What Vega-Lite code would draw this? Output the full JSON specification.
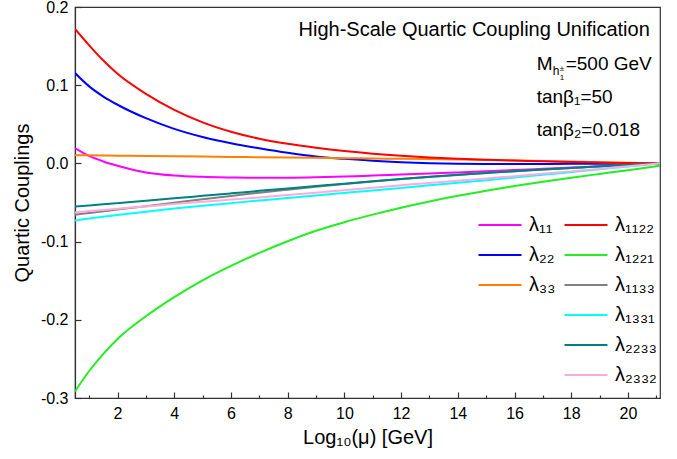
{
  "$schema": "https://vega.github.io/schema/vega-lite/v6.json",
  "width": 585,
  "height": 391,
  "autosize": {"type": "none"},
  "padding": {"left": 75, "top": 7, "right": 17, "bottom": 61},
  "background": "white",
  "config": {
    "font": "Liberation Sans",
    "view": {"stroke": "#333333", "strokeWidth": 1.2},
    "axis": {"grid": false, "domainColor": "#333333", "tickColor": "#333333", "domainWidth": 1.2, "tickWidth": 1.2, "labelColor": "#000000", "titleColor": "#000000", "labelFont": "Liberation Sans", "titleFont": "Liberation Sans", "labelFontSize": 16, "titleFontSize": 20, "titleFontWeight": "normal", "labelOverlap": false},
    "legend": {"labelFont": "Liberation Sans", "labelColor": "#000000", "labelFontSize": 20, "symbolStrokeWidth": 2.2, "symbolSize": 205, "symbolType": "M-3,0H3", "labelOffset": 19, "rowPadding": 10, "padding": 0}
  },
  "data": {"values": [
    {"s":"λ₁₁","x":0.5,"y":0.0197},{"s":"λ₁₁","x":1,"y":0.0095},{"s":"λ₁₁","x":1.5,"y":0.0025},{"s":"λ₁₁","x":2,"y":-0.003},{"s":"λ₁₁","x":3,"y":-0.0115},{"s":"λ₁₁","x":4,"y":-0.0155},{"s":"λ₁₁","x":5,"y":-0.0172},{"s":"λ₁₁","x":6,"y":-0.018},{"s":"λ₁₁","x":7,"y":-0.0185},{"s":"λ₁₁","x":8,"y":-0.0184},{"s":"λ₁₁","x":9,"y":-0.0178},{"s":"λ₁₁","x":10,"y":-0.0168},{"s":"λ₁₁","x":11,"y":-0.0156},{"s":"λ₁₁","x":12,"y":-0.0143},{"s":"λ₁₁","x":13,"y":-0.013},{"s":"λ₁₁","x":14,"y":-0.0115},{"s":"λ₁₁","x":15,"y":-0.01},{"s":"λ₁₁","x":16,"y":-0.0085},{"s":"λ₁₁","x":17,"y":-0.0069},{"s":"λ₁₁","x":18,"y":-0.0054},{"s":"λ₁₁","x":19,"y":-0.0038},{"s":"λ₁₁","x":20,"y":-0.002},{"s":"λ₁₁","x":21.13,"y":0},
    {"s":"λ₂₂","x":0.5,"y":0.1156},{"s":"λ₂₂","x":1,"y":0.0985},{"s":"λ₂₂","x":1.5,"y":0.0855},{"s":"λ₂₂","x":2,"y":0.075},{"s":"λ₂₂","x":3,"y":0.0578},{"s":"λ₂₂","x":4,"y":0.0442},{"s":"λ₂₂","x":5,"y":0.0338},{"s":"λ₂₂","x":6,"y":0.0258},{"s":"λ₂₂","x":7,"y":0.0193},{"s":"λ₂₂","x":8,"y":0.0135},{"s":"λ₂₂","x":9,"y":0.0088},{"s":"λ₂₂","x":10,"y":0.0058},{"s":"λ₂₂","x":11,"y":0.0033},{"s":"λ₂₂","x":12,"y":0.0015},{"s":"λ₂₂","x":13,"y":0.0003},{"s":"λ₂₂","x":14,"y":-0.0004},{"s":"λ₂₂","x":15,"y":-0.0007},{"s":"λ₂₂","x":16,"y":-0.0008},{"s":"λ₂₂","x":17,"y":-0.0007},{"s":"λ₂₂","x":18,"y":-0.0006},{"s":"λ₂₂","x":19,"y":-0.0004},{"s":"λ₂₂","x":20,"y":-0.0002},{"s":"λ₂₂","x":21.13,"y":0},
    {"s":"λ₃₃","x":0.5,"y":0.0105},{"s":"λ₃₃","x":1,"y":0.0103},{"s":"λ₃₃","x":1.5,"y":0.0101},{"s":"λ₃₃","x":2,"y":0.0099},{"s":"λ₃₃","x":3,"y":0.0095},{"s":"λ₃₃","x":4,"y":0.0091},{"s":"λ₃₃","x":5,"y":0.0087},{"s":"λ₃₃","x":6,"y":0.0083},{"s":"λ₃₃","x":7,"y":0.0079},{"s":"λ₃₃","x":8,"y":0.0075},{"s":"λ₃₃","x":9,"y":0.0071},{"s":"λ₃₃","x":10,"y":0.0067},{"s":"λ₃₃","x":11,"y":0.0063},{"s":"λ₃₃","x":12,"y":0.0059},{"s":"λ₃₃","x":13,"y":0.0055},{"s":"λ₃₃","x":14,"y":0.005},{"s":"λ₃₃","x":15,"y":0.0044},{"s":"λ₃₃","x":16,"y":0.0038},{"s":"λ₃₃","x":17,"y":0.0031},{"s":"λ₃₃","x":18,"y":0.0024},{"s":"λ₃₃","x":19,"y":0.0016},{"s":"λ₃₃","x":20,"y":0.0008},{"s":"λ₃₃","x":21.13,"y":0},
    {"s":"λ₁₁₂₂","x":0.5,"y":0.172},{"s":"λ₁₁₂₂","x":1,"y":0.151},{"s":"λ₁₁₂₂","x":1.5,"y":0.1315},{"s":"λ₁₁₂₂","x":2,"y":0.1145},{"s":"λ₁₁₂₂","x":3,"y":0.089},{"s":"λ₁₁₂₂","x":4,"y":0.0685},{"s":"λ₁₁₂₂","x":5,"y":0.0525},{"s":"λ₁₁₂₂","x":6,"y":0.0405},{"s":"λ₁₁₂₂","x":7,"y":0.0315},{"s":"λ₁₁₂₂","x":8,"y":0.025},{"s":"λ₁₁₂₂","x":9,"y":0.02},{"s":"λ₁₁₂₂","x":10,"y":0.0158},{"s":"λ₁₁₂₂","x":11,"y":0.0124},{"s":"λ₁₁₂₂","x":12,"y":0.0097},{"s":"λ₁₁₂₂","x":13,"y":0.0076},{"s":"λ₁₁₂₂","x":14,"y":0.006},{"s":"λ₁₁₂₂","x":15,"y":0.0047},{"s":"λ₁₁₂₂","x":16,"y":0.0036},{"s":"λ₁₁₂₂","x":17,"y":0.0027},{"s":"λ₁₁₂₂","x":18,"y":0.0019},{"s":"λ₁₁₂₂","x":19,"y":0.0012},{"s":"λ₁₁₂₂","x":20,"y":0.0006},{"s":"λ₁₁₂₂","x":21.13,"y":0},
    {"s":"λ₁₂₂₁","x":0.5,"y":-0.2916},{"s":"λ₁₂₂₁","x":1,"y":-0.2655},{"s":"λ₁₂₂₁","x":1.5,"y":-0.2435},{"s":"λ₁₂₂₁","x":2,"y":-0.2245},{"s":"λ₁₂₂₁","x":3,"y":-0.1955},{"s":"λ₁₂₂₁","x":4,"y":-0.171},{"s":"λ₁₂₂₁","x":5,"y":-0.1495},{"s":"λ₁₂₂₁","x":6,"y":-0.131},{"s":"λ₁₂₂₁","x":7,"y":-0.1145},{"s":"λ₁₂₂₁","x":8,"y":-0.0995},{"s":"λ₁₂₂₁","x":9,"y":-0.0862},{"s":"λ₁₂₂₁","x":10,"y":-0.0752},{"s":"λ₁₂₂₁","x":11,"y":-0.0655},{"s":"λ₁₂₂₁","x":12,"y":-0.0567},{"s":"λ₁₂₂₁","x":13,"y":-0.0487},{"s":"λ₁₂₂₁","x":14,"y":-0.0415},{"s":"λ₁₂₂₁","x":15,"y":-0.035},{"s":"λ₁₂₂₁","x":16,"y":-0.029},{"s":"λ₁₂₂₁","x":17,"y":-0.0235},{"s":"λ₁₂₂₁","x":18,"y":-0.0183},{"s":"λ₁₂₂₁","x":19,"y":-0.0135},{"s":"λ₁₂₂₁","x":20,"y":-0.0087},{"s":"λ₁₂₂₁","x":21.13,"y":-0.003},
    {"s":"λ₁₁₃₃","x":0.5,"y":-0.0656},{"s":"λ₁₁₃₃","x":1,"y":-0.0634},{"s":"λ₁₁₃₃","x":1.5,"y":-0.0612},{"s":"λ₁₁₃₃","x":2,"y":-0.059},{"s":"λ₁₁₃₃","x":3,"y":-0.0547},{"s":"λ₁₁₃₃","x":4,"y":-0.0503},{"s":"λ₁₁₃₃","x":5,"y":-0.0459},{"s":"λ₁₁₃₃","x":6,"y":-0.0416},{"s":"λ₁₁₃₃","x":7,"y":-0.0375},{"s":"λ₁₁₃₃","x":8,"y":-0.0336},{"s":"λ₁₁₃₃","x":9,"y":-0.0298},{"s":"λ₁₁₃₃","x":10,"y":-0.0263},{"s":"λ₁₁₃₃","x":11,"y":-0.0231},{"s":"λ₁₁₃₃","x":12,"y":-0.0201},{"s":"λ₁₁₃₃","x":13,"y":-0.0173},{"s":"λ₁₁₃₃","x":14,"y":-0.0147},{"s":"λ₁₁₃₃","x":15,"y":-0.0123},{"s":"λ₁₁₃₃","x":16,"y":-0.01},{"s":"λ₁₁₃₃","x":17,"y":-0.0079},{"s":"λ₁₁₃₃","x":18,"y":-0.0059},{"s":"λ₁₁₃₃","x":19,"y":-0.0039},{"s":"λ₁₁₃₃","x":20,"y":-0.002},{"s":"λ₁₁₃₃","x":21.13,"y":0},
    {"s":"λ₁₃₃₁","x":0.5,"y":-0.0729},{"s":"λ₁₃₃₁","x":1,"y":-0.0705},{"s":"λ₁₃₃₁","x":1.5,"y":-0.0682},{"s":"λ₁₃₃₁","x":2,"y":-0.066},{"s":"λ₁₃₃₁","x":3,"y":-0.0617},{"s":"λ₁₃₃₁","x":4,"y":-0.0578},{"s":"λ₁₃₃₁","x":5,"y":-0.0542},{"s":"λ₁₃₃₁","x":6,"y":-0.0508},{"s":"λ₁₃₃₁","x":7,"y":-0.0475},{"s":"λ₁₃₃₁","x":8,"y":-0.0443},{"s":"λ₁₃₃₁","x":9,"y":-0.041},{"s":"λ₁₃₃₁","x":10,"y":-0.0378},{"s":"λ₁₃₃₁","x":11,"y":-0.0346},{"s":"λ₁₃₃₁","x":12,"y":-0.0313},{"s":"λ₁₃₃₁","x":13,"y":-0.028},{"s":"λ₁₃₃₁","x":14,"y":-0.0247},{"s":"λ₁₃₃₁","x":15,"y":-0.0214},{"s":"λ₁₃₃₁","x":16,"y":-0.018},{"s":"λ₁₃₃₁","x":17,"y":-0.0146},{"s":"λ₁₃₃₁","x":18,"y":-0.0111},{"s":"λ₁₃₃₁","x":19,"y":-0.0076},{"s":"λ₁₃₃₁","x":20,"y":-0.004},{"s":"λ₁₃₃₁","x":21.13,"y":0},
    {"s":"λ₂₂₃₃","x":0.5,"y":-0.055},{"s":"λ₂₂₃₃","x":1,"y":-0.0537},{"s":"λ₂₂₃₃","x":1.5,"y":-0.0523},{"s":"λ₂₂₃₃","x":2,"y":-0.0508},{"s":"λ₂₂₃₃","x":3,"y":-0.0478},{"s":"λ₂₂₃₃","x":4,"y":-0.0447},{"s":"λ₂₂₃₃","x":5,"y":-0.0415},{"s":"λ₂₂₃₃","x":6,"y":-0.0383},{"s":"λ₂₂₃₃","x":7,"y":-0.0351},{"s":"λ₂₂₃₃","x":8,"y":-0.032},{"s":"λ₂₂₃₃","x":9,"y":-0.029},{"s":"λ₂₂₃₃","x":10,"y":-0.0259},{"s":"λ₂₂₃₃","x":11,"y":-0.0229},{"s":"λ₂₂₃₃","x":12,"y":-0.02},{"s":"λ₂₂₃₃","x":13,"y":-0.0172},{"s":"λ₂₂₃₃","x":14,"y":-0.0146},{"s":"λ₂₂₃₃","x":15,"y":-0.0122},{"s":"λ₂₂₃₃","x":16,"y":-0.0099},{"s":"λ₂₂₃₃","x":17,"y":-0.0078},{"s":"λ₂₂₃₃","x":18,"y":-0.0058},{"s":"λ₂₂₃₃","x":19,"y":-0.0038},{"s":"λ₂₂₃₃","x":20,"y":-0.0019},{"s":"λ₂₂₃₃","x":21.13,"y":0},
    {"s":"λ₂₃₃₂","x":0.5,"y":-0.0627},{"s":"λ₂₃₃₂","x":1,"y":-0.061},{"s":"λ₂₃₃₂","x":1.5,"y":-0.0595},{"s":"λ₂₃₃₂","x":2,"y":-0.058},{"s":"λ₂₃₃₂","x":3,"y":-0.055},{"s":"λ₂₃₃₂","x":4,"y":-0.052},{"s":"λ₂₃₃₂","x":5,"y":-0.049},{"s":"λ₂₃₃₂","x":6,"y":-0.0463},{"s":"λ₂₃₃₂","x":7,"y":-0.0435},{"s":"λ₂₃₃₂","x":8,"y":-0.0405},{"s":"λ₂₃₃₂","x":9,"y":-0.0375},{"s":"λ₂₃₃₂","x":10,"y":-0.0342},{"s":"λ₂₃₃₂","x":11,"y":-0.031},{"s":"λ₂₃₃₂","x":12,"y":-0.028},{"s":"λ₂₃₃₂","x":13,"y":-0.025},{"s":"λ₂₃₃₂","x":14,"y":-0.0222},{"s":"λ₂₃₃₂","x":15,"y":-0.0193},{"s":"λ₂₃₃₂","x":16,"y":-0.0163},{"s":"λ₂₃₃₂","x":17,"y":-0.0133},{"s":"λ₂₃₃₂","x":18,"y":-0.0102},{"s":"λ₂₃₃₂","x":19,"y":-0.007},{"s":"λ₂₃₃₂","x":20,"y":-0.0036},{"s":"λ₂₃₃₂","x":21.13,"y":0}
  ]},
  "resolve": {"axis": {"x": "independent"}},
  "layer": [
    {
      "transform": [{"filter": {"field": "s", "oneOf": ["λ₁₁", "λ₂₂", "λ₃₃"]}}],
      "mark": {"type": "line", "strokeWidth": 2, "interpolate": "monotone", "clip": true},
      "encoding": {
        "x": {"field": "x", "type": "quantitative", "scale": {"domain": [0.5, 21.13], "nice": false, "zero": false},
          "axis": {"orient": "bottom", "title": "Log₁₀(μ) [GeV]", "values": [2,4,6,8,10,12,14,16,18,20],
            "tickSize": -6, "labelPadding": 13, "titlePadding": 6, "labelFlush": false, "labelOverlap": false}},
        "y": {"field": "y", "type": "quantitative", "scale": {"domain": [-0.3, 0.2], "nice": false, "zero": false},
          "axis": {"title": "Quartic Couplings", "values": [-0.3,-0.25,-0.2,-0.15,-0.1,-0.05,0,0.05,0.1,0.15,0.2],
            "labelExpr": "abs(datum.value*10 - round(datum.value*10)) < 0.01 ? replace(format(datum.value, '.1f'), '\u2212', '-') : ''",
            "labelOverlap": false,
            "tickSize": {"condition": {"test": "abs(datum.value*10 - round(datum.value*10)) < 0.01", "value": -6}, "value": -3},
            "labelPadding": 13, "titlePadding": 8, "labelFlush": false}},
        "color": {"field": "s", "type": "nominal",
          "scale": {"domain": ["λ₁₁", "λ₂₂", "λ₃₃"], "range": ["#ff00ff", "#0000ff", "#ff8000"]},
          "legend": {"title": null, "orient": "none", "legendX": 415, "legendY": 208}}
      }
    },
    {
      "transform": [{"filter": {"not": {"field": "s", "oneOf": ["λ₁₁", "λ₂₂", "λ₃₃"]}}}],
      "mark": {"type": "line", "strokeWidth": 2, "interpolate": "monotone", "clip": true},
      "encoding": {
        "x": {"field": "x", "type": "quantitative",
          "axis": {"orient": "bottom", "title": null, "values": [1,3,5,7,9,11,13,15,17,19,21], "labels": false, "domain": false, "tickSize": -3}},
        "y": {"field": "y", "type": "quantitative"},
        "stroke": {"field": "s", "type": "nominal",
          "scale": {"domain": ["λ₁₁₂₂", "λ₁₂₂₁", "λ₁₁₃₃", "λ₁₃₃₁", "λ₂₂₃₃", "λ₂₃₃₂"], "range": ["#ff0000", "#22ee22", "#808080", "#00ffff", "#008080", "#ffaadd"]},
          "legend": {"title": null, "orient": "none", "legendX": 501, "legendY": 208}}
      }
    },
    {
      "data": {"values": [{}]},
      "mark": {"type": "text", "text": "High-Scale Quartic Coupling Unification", "align": "right", "baseline": "alphabetic", "fontSize": 20, "font": "Liberation Sans", "color": "#000000"},
      "encoding": {"x": {"datum": 20.77, "axis": null}, "y": {"datum": 0.1624}}
    },
    {
      "data": {"values": [{}]},
      "mark": {"type": "text", "text": "M", "align": "left", "baseline": "alphabetic", "fontSize": 19, "font": "Liberation Sans", "color": "#000000"},
      "encoding": {"x": {"datum": 16.78, "axis": null}, "y": {"datum": 0.1198}}
    },
    {
      "data": {"values": [{}]},
      "mark": {"type": "text", "text": "h", "align": "left", "baseline": "alphabetic", "fontSize": 12, "dx": 16, "dy": 5, "font": "Liberation Sans", "color": "#000000"},
      "encoding": {"x": {"datum": 16.78, "axis": null}, "y": {"datum": 0.1198}}
    },
    {
      "data": {"values": [{}]},
      "mark": {"type": "text", "text": "1", "align": "left", "baseline": "alphabetic", "fontSize": 8, "dx": 23, "dy": 10, "font": "Liberation Sans", "color": "#000000"},
      "encoding": {"x": {"datum": 16.78, "axis": null}, "y": {"datum": 0.1198}}
    },
    {
      "data": {"values": [{}]},
      "mark": {"type": "text", "text": "±", "align": "left", "baseline": "alphabetic", "fontSize": 8, "dx": 23, "dy": 1, "font": "Liberation Sans", "color": "#000000"},
      "encoding": {"x": {"datum": 16.78, "axis": null}, "y": {"datum": 0.1198}}
    },
    {
      "data": {"values": [{}]},
      "mark": {"type": "text", "text": "=500 GeV", "align": "left", "baseline": "alphabetic", "fontSize": 19, "dx": 29, "font": "Liberation Sans", "color": "#000000"},
      "encoding": {"x": {"datum": 16.78, "axis": null}, "y": {"datum": 0.1198}}
    },
    {
      "data": {"values": [{}]},
      "mark": {"type": "text", "text": "tanβ₁=50", "align": "left", "baseline": "alphabetic", "fontSize": 19, "font": "Liberation Sans", "color": "#000000"},
      "encoding": {"x": {"datum": 16.78, "axis": null}, "y": {"datum": 0.0772}}
    },
    {
      "data": {"values": [{}]},
      "mark": {"type": "text", "text": "tanβ₂=0.018", "align": "left", "baseline": "alphabetic", "fontSize": 19, "font": "Liberation Sans", "color": "#000000"},
      "encoding": {"x": {"datum": 16.78, "axis": null}, "y": {"datum": 0.0345}}
    }
  ]
}
